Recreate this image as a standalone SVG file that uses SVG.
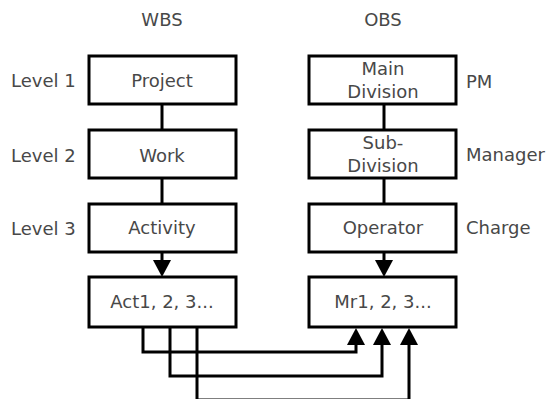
<svg xmlns="http://www.w3.org/2000/svg" width="550" height="399" viewBox="0 0 550 399">
  <style>
    .box { fill: #ffffff; stroke: #000000; stroke-width: 3; }
    .wire { fill: none; stroke: #000000; stroke-width: 3; stroke-linejoin: miter; }
    text { font-family: "DejaVu Sans", "Liberation Sans", sans-serif; font-size: 18px; fill: #484848; }
    .c { text-anchor: middle; }
  </style>
  <defs>
    <marker id="arrow" markerUnits="userSpaceOnUse" markerWidth="17" markerHeight="18" refX="0" refY="9" orient="auto" overflow="visible">
      <path d="M0,0 L17,9 L0,18 z" fill="#000000"/>
    </marker>
  </defs>

  <!-- column titles -->
  <text class="c" x="162" y="26">WBS</text>
  <text class="c" x="383" y="26">OBS</text>

  <!-- level labels -->
  <text x="11" y="87">Level 1</text>
  <text x="11" y="162">Level 2</text>
  <text x="11" y="235">Level 3</text>

  <!-- role labels -->
  <text x="466" y="88">PM</text>
  <text x="466" y="161">Manager</text>
  <text x="466" y="234">Charge</text>

  <!-- connectors -->
  <g id="connectors">
    <line class="wire" x1="162" y1="104" x2="162" y2="130"/>
    <line class="wire" x1="162" y1="178" x2="162" y2="204"/>
    <line class="wire" x1="162" y1="252" x2="162" y2="260" marker-end="url(#arrow)"/>
    <line class="wire" x1="384" y1="104" x2="384" y2="130"/>
    <line class="wire" x1="384" y1="178" x2="384" y2="204"/>
    <line class="wire" x1="384" y1="252" x2="384" y2="260" marker-end="url(#arrow)"/>
    <path class="wire" d="M143,327 V352 H356 V345" marker-end="url(#arrow)"/>
    <path class="wire" d="M170,327 V376 H382 V345" marker-end="url(#arrow)"/>
    <path class="wire" d="M197,327 V400 H409 V345" marker-end="url(#arrow)"/>
  </g>

  <!-- WBS column -->
  <g id="project">
    <rect class="box" x="89" y="56" width="147" height="48"/>
    <text class="c" x="162" y="87">Project</text>
  </g>
  <g id="work">
    <rect class="box" x="89" y="130" width="147" height="48"/>
    <text class="c" x="162" y="162">Work</text>
  </g>
  <g id="activity">
    <rect class="box" x="89" y="204" width="147" height="48"/>
    <text class="c" x="162" y="234">Activity</text>
  </g>
  <g id="acts">
    <rect class="box" x="89" y="277" width="147" height="50"/>
    <text class="c" x="162" y="308">Act1, 2, 3...</text>
  </g>

  <!-- OBS column -->
  <g id="main-division">
    <rect class="box" x="309" y="56" width="147" height="48"/>
    <text class="c" x="383" y="75">Main</text>
    <text class="c" x="383" y="98">Division</text>
  </g>
  <g id="sub-division">
    <rect class="box" x="309" y="130" width="147" height="48"/>
    <text class="c" x="383" y="149">Sub-</text>
    <text class="c" x="383" y="172">Division</text>
  </g>
  <g id="operator">
    <rect class="box" x="309" y="204" width="147" height="48"/>
    <text class="c" x="383" y="234">Operator</text>
  </g>
  <g id="mrs">
    <rect class="box" x="309" y="277" width="147" height="50"/>
    <text class="c" x="383" y="308">Mr1, 2, 3...</text>
  </g>
</svg>
